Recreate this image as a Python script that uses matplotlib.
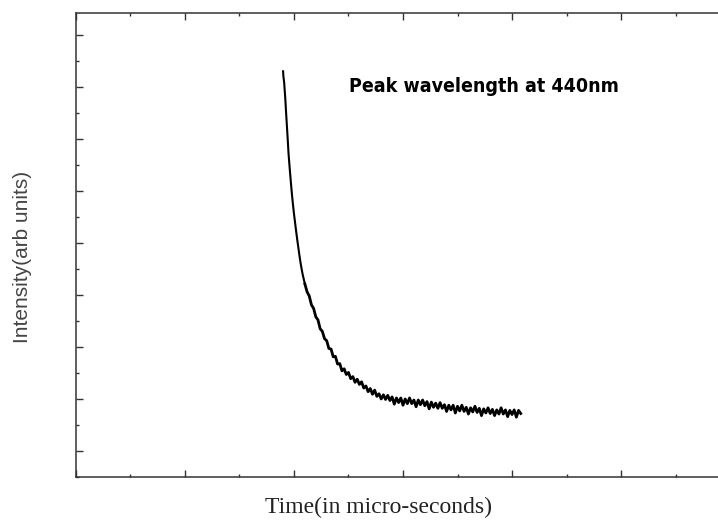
import matplotlib
matplotlib.use("Agg")
import matplotlib.pyplot as plt
from matplotlib.ticker import MultipleLocator, NullFormatter

# time (arbitrary, major tick = 1) and intensity (arb units, major tick = 1)
time_head = [1.900, 1.903, 1.910, 1.920, 1.930, 1.940, 1.950, 1.960, 1.970,
             1.980, 1.990, 2.000, 2.010, 2.020, 2.030, 2.040, 2.050, 2.060,
             2.070, 2.080, 2.090, 2.10]
inten_head = [8.30, 8.20, 8.08, 7.78, 7.42, 7.08, 6.72, 6.45, 6.20,
              5.96, 5.75, 5.56, 5.39, 5.22, 5.06, 4.91, 4.76, 4.62,
              4.50, 4.39, 4.30, 4.21]

time_tail = [2.10, 2.12, 2.14, 2.16, 2.18, 2.20, 2.22, 2.24, 2.26, 2.28,
             2.30, 2.32, 2.34, 2.36, 2.38, 2.40, 2.42, 2.44, 2.46, 2.48,
             2.50, 2.52, 2.54, 2.56, 2.58, 2.60, 2.62, 2.64, 2.66, 2.68,
             2.70, 2.72, 2.74, 2.76, 2.78, 2.80, 2.82, 2.84, 2.86, 2.88,
             2.90, 2.92, 2.94, 2.96, 2.98, 3.00, 3.02, 3.04, 3.06, 3.08,
             3.10, 3.12, 3.14, 3.16, 3.18, 3.20, 3.22, 3.24, 3.26, 3.28,
             3.30, 3.32, 3.34, 3.36, 3.38, 3.40, 3.42, 3.44, 3.46, 3.48,
             3.50, 3.52, 3.54, 3.56, 3.58, 3.60, 3.62, 3.64, 3.66, 3.68,
             3.70, 3.72, 3.74, 3.76, 3.78, 3.80, 3.82, 3.84, 3.86, 3.88,
             3.90, 3.92, 3.94, 3.96, 3.98, 4.00, 4.02, 4.04, 4.06, 4.08]
inten_tail = [4.21, 4.06, 3.98, 3.81, 3.74, 3.58, 3.52, 3.35, 3.30, 3.16,
              3.12, 2.97, 2.96, 2.81, 2.82, 2.67, 2.68, 2.54, 2.58, 2.47,
              2.51, 2.39, 2.43, 2.32, 2.38, 2.28, 2.33, 2.21, 2.25, 2.14,
              2.20, 2.09, 2.17, 2.05, 2.10, 2.00, 2.08, 1.99, 2.07, 1.97,
              2.04, 1.90, 2.02, 1.93, 2.02, 1.88, 2.00, 1.91, 2.02, 1.91,
              1.98, 1.85, 1.98, 1.89, 1.98, 1.87, 1.95, 1.81, 1.94, 1.84,
              1.92, 1.82, 1.93, 1.82, 1.89, 1.76, 1.88, 1.79, 1.88, 1.73,
              1.86, 1.77, 1.88, 1.76, 1.84, 1.71, 1.83, 1.75, 1.86, 1.74,
              1.82, 1.68, 1.81, 1.73, 1.83, 1.72, 1.80, 1.68, 1.79, 1.71,
              1.83, 1.71, 1.79, 1.66, 1.78, 1.70, 1.79, 1.65, 1.78, 1.72]

fig = plt.figure(figsize=(7.18, 5.23), dpi=100)
ax = fig.add_axes([0.1058, 0.088, 0.897, 0.887])

ax.plot(time_head, inten_head, color="black", lw=1.5)
ax.plot(time_tail, inten_tail, color="black", lw=2.0)

ax.set_xlim(0, 5.908)
ax.set_ylim(0.5, 9.42)
ax.xaxis.set_major_locator(MultipleLocator(1))
ax.xaxis.set_minor_locator(MultipleLocator(0.5))
ax.yaxis.set_major_locator(MultipleLocator(1))
ax.yaxis.set_minor_locator(MultipleLocator(0.5))
ax.xaxis.set_major_formatter(NullFormatter())
ax.yaxis.set_major_formatter(NullFormatter())
ax.tick_params(which="both", direction="in", top=True, right=False,
               color="#333333", width=1.0)
ax.tick_params(which="major", length=5)
ax.tick_params(which="minor", length=2.5)

for side in ["left", "top", "bottom"]:
    ax.spines[side].set_color("#333333")
    ax.spines[side].set_linewidth(1.1)
ax.spines["right"].set_visible(False)

ax.text(0.424, 0.842, "Peak wavelength at 440nm", transform=ax.transAxes,
        fontsize=14, fontweight="bold", fontstretch="condensed",
        family="DejaVu Sans", va="center", ha="left")

ax.set_xlabel("Time(in micro-seconds)", family="Liberation Serif",
              fontsize=17, color="#222222")
ax.xaxis.set_label_coords(0.469, -0.043)
ax.set_ylabel("Intensity(arb units)", family="Liberation Sans",
              fontsize=15, color="#444444")
ax.yaxis.set_label_coords(-0.069, 0.475)

fig.savefig("out.png", dpi=100)
